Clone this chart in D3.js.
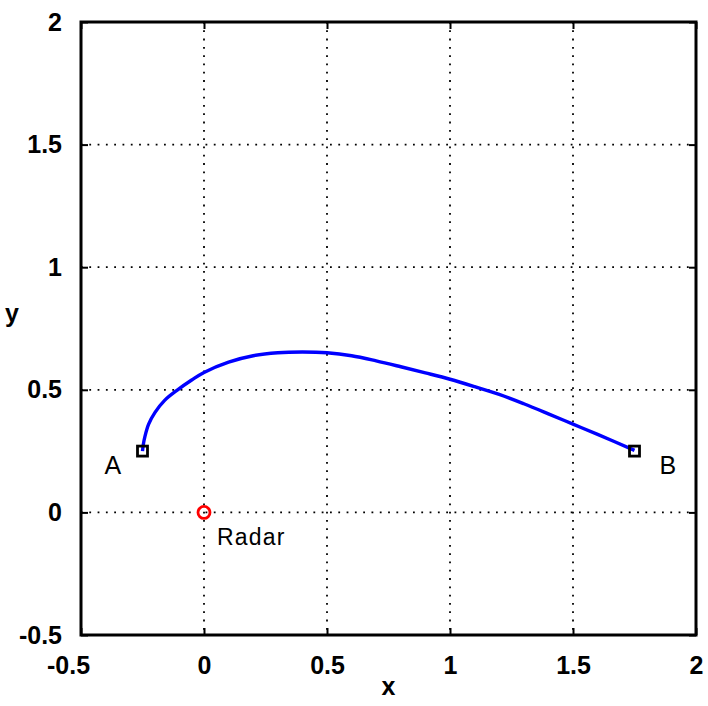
<!DOCTYPE html>
<html><head><meta charset="utf-8">
<script src="https://cdn.jsdelivr.net/npm/d3@7"></script>
<style>body{margin:0;background:#fff}svg{display:block}</style>
</head><body>
<script>
const pathX = [-0.25,-0.247,-0.24,-0.225,-0.199,-0.16,-0.11,-0.05,0,0.1,0.2,0.3,0.4,0.5,0.6,0.7,0.8,0.9,1.0,1.1,1.2,1.3,1.4,1.5,1.6,1.75];
const pathY = [0.25,0.275,0.31,0.36,0.408,0.457,0.498,0.54,0.571,0.613,0.639,0.651,0.654,0.651,0.639,0.618,0.594,0.569,0.543,0.513,0.481,0.443,0.402,0.36,0.318,0.253];
const endpointNames = ["A","B"];
const endpointX = [-0.25,1.75];
const endpointY = [0.25,0.25];
const radarX = [0];
const radarY = [0];
const radarLabel = ["Radar"];
const xTicks = [-0.5,0,0.5,1,1.5,2];
const yTicks = [-0.5,0,0.5,1,1.5,2];

const W=708,H=706;
const m={left:81,right:696,top:22,bottom:635};
const svg=d3.select("body").append("svg").attr("width",W).attr("height",H);
const x=d3.scaleLinear().domain([-0.5,2]).range([m.left,m.right]);
const y=d3.scaleLinear().domain([-0.5,2]).range([m.bottom,m.top]);
const fmt=d=>String(d);
const font="Liberation Sans, Arial, sans-serif";

// grid
const g=svg.append("g");
g.selectAll(".gx").data(xTicks.slice(1,-1)).enter().append("line")
 .attr("x1",d=>x(d)).attr("x2",d=>x(d)).attr("y1",m.top).attr("y2",m.bottom)
 .attr("stroke","#000").attr("stroke-width",1.8).attr("stroke-dasharray","1.8,6.5");
g.selectAll(".gy").data(yTicks.slice(1,-1)).enter().append("line")
 .attr("y1",d=>y(d)).attr("y2",d=>y(d)).attr("x1",m.left).attr("x2",m.right)
 .attr("stroke","#000").attr("stroke-width",1.8).attr("stroke-dasharray","1.8,6.5");

// axes (inward ticks)
const ax=svg.append("g").attr("transform",`translate(0,${m.bottom})`)
 .call(d3.axisBottom(x).tickValues(xTicks).tickFormat(fmt).tickSizeInner(-7).tickSizeOuter(0).tickPadding(21));
const ay=svg.append("g").attr("transform",`translate(${m.left},0)`)
 .call(d3.axisLeft(y).tickValues(yTicks).tickFormat(fmt).tickSizeInner(-7).tickSizeOuter(0).tickPadding(17));
const at=svg.append("g").attr("transform",`translate(0,${m.top})`)
 .call(d3.axisTop(x).tickValues(xTicks).tickFormat("").tickSizeInner(-7).tickSizeOuter(0));
const ar=svg.append("g").attr("transform",`translate(${m.right},0)`)
 .call(d3.axisRight(y).tickValues(yTicks).tickFormat("").tickSizeInner(-7).tickSizeOuter(0));
[ax,ay,at,ar].forEach(a=>{
  a.select(".domain").remove();
  a.selectAll(".tick line").attr("stroke","#000").attr("stroke-width",2);
  a.selectAll(".tick text").attr("font-family",font).attr("font-size",25).attr("font-weight","bold").attr("fill","#000");
});
ax.selectAll(".tick text").attr("dy","0.71em").attr("dx",(d,i)=>i===0?-13:0);
ay.selectAll(".tick text").attr("dx",-2);

// frame
svg.append("rect").attr("x",m.left).attr("y",m.top).attr("width",m.right-m.left).attr("height",m.bottom-m.top)
 .attr("fill","none").attr("stroke","#000").attr("stroke-width",3);

// path
const line=d3.line().x((d,i)=>x(pathX[i])).y((d,i)=>y(pathY[i])).curve(d3.curveCatmullRom.alpha(0.5));
svg.append("path").datum(pathX).attr("d",line).attr("fill","none").attr("stroke","#0000ff").attr("stroke-width",3.4);

// endpoints
svg.selectAll(".ep").data(endpointX).enter().append("rect")
 .attr("x",(d)=>x(d)-5).attr("y",(d,i)=>y(endpointY[i])-5).attr("width",10).attr("height",10)
 .attr("fill","none").attr("stroke","#000").attr("stroke-width",2.8);
svg.selectAll(".epl").data(endpointNames).enter().append("text")
 .attr("x",(d,i)=>i===0?x(endpointX[i])-38:x(endpointX[i])+25)
 .attr("y",(d,i)=>y(endpointY[i])+23)
 .attr("font-family",font).attr("font-size",25).attr("fill","#000").text(d=>d);

// radar
svg.selectAll(".radar").data(radarX).enter().append("circle")
 .attr("cx",d=>x(d)).attr("cy",(d,i)=>y(radarY[i])).attr("r",6)
 .attr("fill","none").attr("stroke","#ff0000").attr("stroke-width",2.8);
svg.selectAll(".radl").data(radarLabel).enter().append("text")
 .attr("x",(d,i)=>x(radarX[i])+13).attr("y",(d,i)=>y(radarY[i])+33)
 .attr("font-family",font).attr("font-size",23).attr("letter-spacing",1.2).attr("fill","#000").text(d=>d);

// axis labels
svg.append("text").attr("x",(m.left+m.right)/2).attr("y",695).attr("text-anchor","middle")
 .attr("font-family",font).attr("font-size",25).attr("font-weight","bold").text("x");
svg.append("text").attr("x",12).attr("y",322).attr("text-anchor","middle")
 .attr("font-family",font).attr("font-size",25).attr("font-weight","bold").text("y");
</script>
</body></html>
